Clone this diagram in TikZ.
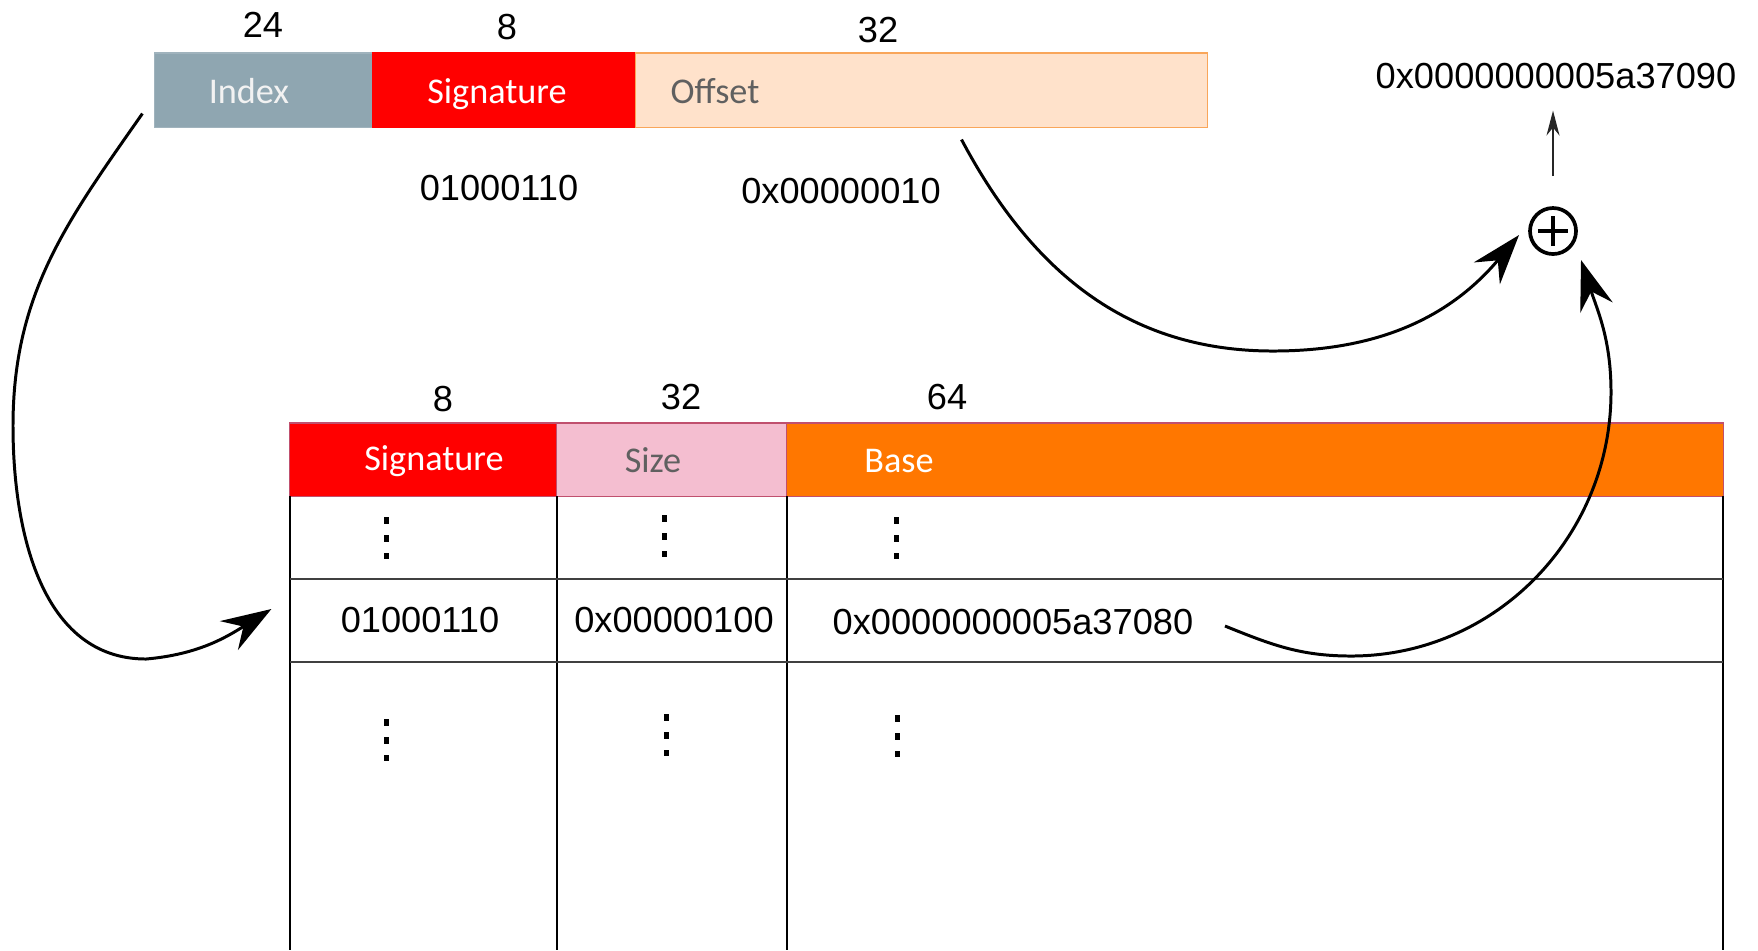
\documentclass[tikz,border=0pt]{standalone}
\usepackage{fontspec}
\setmainfont{Liberation Sans}
\newfontfamily\labelfont{Carlito}
\usetikzlibrary{arrows.meta}

\definecolor{idxgray}{HTML}{8FA6B1}
\definecolor{sigred}{HTML}{FF0000}
\definecolor{offpeach}{HTML}{FFE2CB}
\definecolor{offedge}{HTML}{F9A65A}
\definecolor{sizepink}{HTML}{F4BED0}
\definecolor{baseorange}{HTML}{FF7700}
\definecolor{hdredge}{HTML}{C0506E}
\definecolor{darktext}{HTML}{606060}

\begin{document}
\begin{tikzpicture}[x=0.01cm, y=-0.01cm,
  txt/.style={font=\fontsize{10.3}{12.4}\selectfont, inner sep=0pt},
  lbl/.style={font=\labelfont\fontsize{10.3}{12.4}\selectfont, inner sep=0pt, text depth=0pt},
  field/.style={draw, line width=0.3pt, minimum height=0.74cm, inner sep=0pt},
  hdr/.style={field, draw=hdredge, minimum height=0.73cm},
  grid/.style={line width=0.4pt, black},
  rowline/.style={line width=0.8pt, black!75},
  vdotsbox/.style={minimum width=0.06cm, minimum height=0.44cm, inner sep=0pt,
    path picture={\foreach \k in {0,1,2}{
      \fill ([xshift=-0.025cm, yshift=-0.025cm-\k*0.18cm]path picture bounding box.north)
        rectangle ++(0.05cm,-0.07cm);}}},
  flow/.style={line width=0.85pt, -{Stealth[length=0.5cm, width=0.34cm, inset=0.17cm]}},
  thinarrow/.style={line width=0.45pt, black!85, -{Stealth[length=0.25cm, width=0.13cm, inset=0.08cm]}},
  sum/.style={circle, draw, line width=1.05pt, minimum size=0.46cm, inner sep=0pt,
    path picture={
      \draw[line width=1.05pt] ([xshift=-0.15cm]path picture bounding box.center) -- ++(0.3cm,0);
      \draw[line width=1.05pt] ([yshift=-0.15cm]path picture bounding box.center) -- ++(0,0.3cm);}}
]
\useasboundingbox (0,0) rectangle (1758,950);

% ---- address word: Index | Signature | Offset
\node[field, fill=idxgray, draw=idxgray!85!white, minimum width=2.18cm] (idx) at (264,90) {};
\node[field, fill=sigred, draw=sigred, minimum width=2.63cm] (sig) at (504.5,90) {};
\node[field, fill=offpeach, draw=offedge, minimum width=5.71cm] (off) at (921.5,90) {};

\node[lbl, text=white!95!black] (idxl) at (249,91) {Index};
\node[lbl, text=white] (sigl) at (497,91) {Signature};
\node[lbl, text=darktext] (offl) at (715,91) {Offset};

\node[txt] (w24) at (263,25) {24};
\node[txt] (w8) at (507,27) {8};
\node[txt] (w32) at (878,30) {32};

\node[txt] (sigval) at (499,188) {01000110};
\node[txt] (offval) at (841,191) {0x00000010};

% ---- adder and result
\node[sum] (plus) at (1553,231) {};
\node[txt] (result) at (1556,76) {0x0000000005a37090};
\draw[thinarrow, shorten <=0.3cm, shorten >=0.21cm] (plus.north) -- (plus.north |- result.south);

% ---- segment table header
\node[hdr, fill=sigred, minimum width=2.67cm] (tsig) at (423.5,459.5) {};
\node[hdr, fill=sizepink, minimum width=2.30cm] (tsize) at (672,459.5) {};
\node[hdr, fill=baseorange, minimum width=9.36cm] (tbase) at (1255,459.5) {};

\node[lbl, text=white] (tsigl) at (434,458) {Signature};
\node[lbl, text=darktext] (tsizel) at (653,460) {Size};
\node[lbl, text=white] (tbasel) at (899,461) {Base};

\node[txt] (t8) at (443,399) {8};
\node[txt] (t32) at (681,397) {32};
\node[txt] (t64) at (947,397) {64};

% ---- table body grid
\draw[grid] (290,496) -- (290,950);
\draw[grid] (557,496) -- (557,950);
\draw[grid] (787,496) -- (787,950);
\draw[grid] (1723,496) -- (1723,950);
\draw[rowline] (290,579) -- (1723,579);
\draw[rowline] (290,662) -- (1723,662);

% ---- table rows
\node[vdotsbox] (d11) at (386,536) {};
\node[vdotsbox] (d12) at (664,534) {};
\node[vdotsbox] (d13) at (896,536) {};

\node[txt] (rsig) at (420,620) {01000110};
\node[txt] (rsize) at (674,620) {0x00000100};
\node[txt, anchor=west] (rbase) at (832,622) {0x0000000005a37080};

\node[vdotsbox] (d31) at (386,738) {};
\node[vdotsbox] (d32) at (666,733) {};
\node[vdotsbox] (d33) at (897,734) {};

% ---- connector end points
\coordinate (idxout) at ([shift={(-12,-14)}]idx.south west);
\coordinate (rowin) at ([shift={(-18,-11)}]rsig.west -| tsig.west);
\coordinate (offout) at ([shift={(40,12)}]off.south);
\coordinate (plusinA) at ([shift={(-34,4)}]plus.center);
\coordinate (baseout) at ([shift={(31,4)}]rbase.east);
\coordinate (plusinB) at ([shift={(28,29)}]plus.center);

% ---- connectors
\draw[flow] (idxout) to[out=-125, in=90] (13,426) to[out=-90, in=180] (146,659) to[out=5, in=-148] (rowin);
\draw[flow] (offout) to[out=-62, in=180] (1273,351) to[out=0, in=-130] (plusinA);
\draw[flow] (baseout) to[out=-22, in=180] (1351,656) to[out=0, in=-90] (1611,392) to[out=90, in=-72] (plusinB);

\end{tikzpicture}
\end{document}
